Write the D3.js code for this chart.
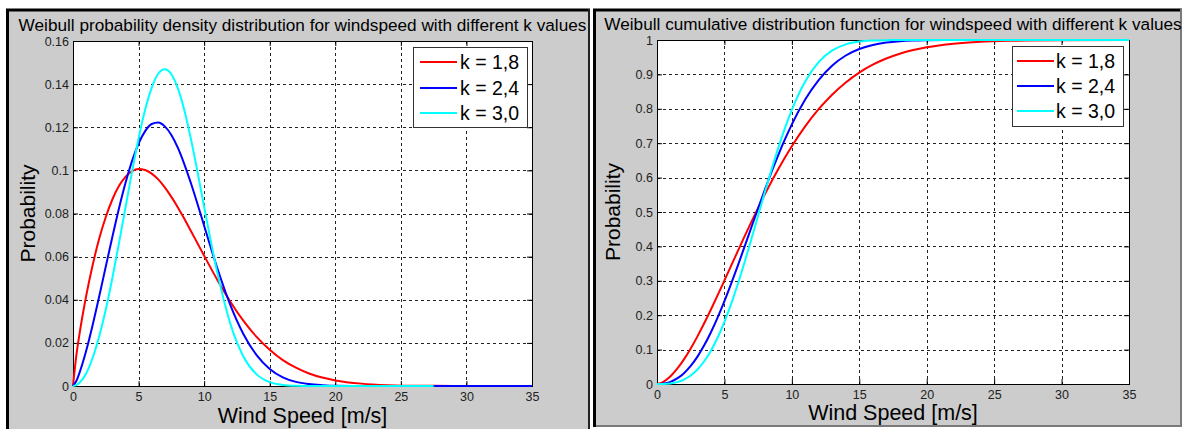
<!DOCTYPE html>
<html>
<head>
<meta charset="utf-8">
<script src="https://cdn.jsdelivr.net/npm/d3@7"></script>
<style>
  body { margin: 0; background: #fff; }
  svg { display: block; font-family: "Liberation Sans", Arial, sans-serif; }
</style>
</head>
<body>
<svg id="chart" width="1184" height="429"></svg>
<script>
// values
const windSpeed = [0, 0.25, 0.5, 1, 1.5, 2, 2.5, 3, 3.5, 4, 4.5, 5, 5.5, 6, 6.5, 7, 7.5, 8, 8.5, 9, 9.5, 10,
  11, 12, 13, 14, 15, 16, 17, 18, 19, 20, 22, 24, 26, 27.5, 30, 35];

const pdfK18 = [0, 0.0140, 0.0243, 0.0416, 0.0561, 0.0684, 0.0784, 0.0865, 0.0927, 0.0970, 0.0996, 0.1006, 0.1002, 0.0985, 0.0958, 0.0921, 0.0877, 0.0828, 0.0774, 0.0718, 0.0661, 0.0604,
  0.0493, 0.0391, 0.0302, 0.0228, 0.0168, 0.0120, 0.0085, 0.0058, 0.0039, 0.0026, 0.0011, 0.0004, 0.0001, 0.0001, 0, 0];
const pdfK24 = [0, 0.0023, 0.0062, 0.0162, 0.0283, 0.0416, 0.0554, 0.0691, 0.0822, 0.0941, 0.1043, 0.1124, 0.1182, 0.1215, 0.1222, 0.1204, 0.1164, 0.1104, 0.1027, 0.0939, 0.0843, 0.0743,
  0.0547, 0.0375, 0.0240, 0.0143, 0.0079, 0.0040, 0.0019, 0.0009, 0.0004, 0.0001, 0, 0, 0, 0, 0, 0];
const pdfK30 = [0, 0.0004, 0.0015, 0.0058, 0.0131, 0.0231, 0.0355, 0.0500, 0.0660, 0.0827, 0.0993, 0.1148, 0.1281, 0.1383, 0.1448, 0.1469, 0.1446, 0.1380, 0.1276, 0.1143, 0.0991, 0.0831,
  0.0527, 0.0289, 0.0136, 0.0054, 0.0018, 0.0005, 0.0001, 0, 0, 0, 0, 0, 0, 0, null, null];

const cdfK18 = [0, 0.0021, 0.0069, 0.0224, 0.0444, 0.0717, 0.1033, 0.1385, 0.1765, 0.2167, 0.2584, 0.3010, 0.3440, 0.3871, 0.4297, 0.4715, 0.5121, 0.5514, 0.5892, 0.6251, 0.6592, 0.6913,
  0.7495, 0.7995, 0.8417, 0.8767, 0.9053, 0.9281, 0.9461, 0.9601, 0.9708, 0.9789, 0.9894, 0.9949, 0.9976, 0.9987, 0.9996, 1];
const cdfK24 = [0, 0.0002, 0.0012, 0.0063, 0.0162, 0.0315, 0.0526, 0.0797, 0.1124, 0.1506, 0.1937, 0.2410, 0.2918, 0.3451, 0.3999, 0.4556, 0.5109, 0.5649, 0.6170, 0.6663, 0.7124, 0.7549,
  0.8278, 0.8844, 0.9261, 0.9550, 0.9739, 0.9856, 0.9925, 0.9963, 0.9983, 0.9992, 0.9999, 1, 1, 1, 1, 1];
const cdfK30 = [0, 0, 0.0002, 0.0016, 0.0054, 0.0127, 0.0246, 0.0421, 0.0661, 0.0970, 0.1352, 0.1807, 0.2331, 0.2914, 0.3546, 0.4213, 0.4896, 0.5580, 0.6244, 0.6873, 0.7451, 0.7970,
  0.8802, 0.9364, 0.9699, 0.9874, 0.9954, 0.9985, 0.9996, 0.9999, 1, 1, 1, 1, 1, 1, 1, 1];

const seriesNames = ["k = 1,8", "k = 2,4", "k = 3,0"];
const seriesColors = ["#ff0000", "#0000ff", "#00ffff"];

const xTicks = [0, 5, 10, 15, 20, 25, 30, 35];
const pdfTicks = [0, 0.02, 0.04, 0.06, 0.08, 0.1, 0.12, 0.14, 0.16];
const cdfTicks = [0, 0.1, 0.2, 0.3, 0.4, 0.5, 0.6, 0.7, 0.8, 0.9, 1];

const svg = d3.select("#chart");

const panels = [
  {
    frame: { x: 6, y: 9, w: 584, h: 440, edge: "#222" },
    plot: { left: 73, top: 41, right: 532, bottom: 386 },
    title: "Weibull probability density distribution for windspeed with different k values",
    titleY: 31,
    yMax: 0.16, yTicks: pdfTicks,
    series: [pdfK18, pdfK24, pdfK30],
    legend: { x: 413, y: 47, w: 114, h: 80, lineX: 7, textX: 47, rows: [15, 41, 66] },
    yLabelX: 35, xLabelY: 423
  },
  {
    frame: { x: 593, y: 9, w: 589, h: 418, edge: "#7a7a7a" },
    plot: { left: 657, top: 40, right: 1129, bottom: 384 },
    title: "Weibull cumulative distribution function for windspeed with different k values",
    titleY: 30,
    yMax: 1, yTicks: cdfTicks,
    series: [cdfK18, cdfK24, cdfK30],
    legend: { x: 1012, y: 46, w: 111, h: 80, lineX: 5, textX: 44, rows: [15, 40, 65] },
    yLabelX: 620, xLabelY: 420
  }
];

panels.forEach(drawPanel);

function drawPanel(p) {
  const f = p.frame;
  const g = svg.append("g");

  // grey figure frame
  g.append("rect")
    .attr("x", f.x).attr("y", f.y)
    .attr("width", f.w).attr("height", f.h)
    .attr("fill", "#cccccc");
  g.append("path")
    .attr("d", `M${f.x + 1.5},${f.y + f.h} V${f.y + 1} H${f.x + f.w}`)
    .attr("fill", "none").attr("stroke", "#000").attr("stroke-width", 3);
  g.append("path")
    .attr("d", `M${f.x + f.w - 1},${f.y} V${f.y + f.h - 1} H${f.x + 3}`)
    .attr("fill", "none").attr("stroke", f.edge).attr("stroke-width", 2);

  const w = p.plot.right - p.plot.left;
  const h = p.plot.bottom - p.plot.top;

  const x = d3.scaleLinear().domain([0, 35]).range([0, w]);
  const y = d3.scaleLinear().domain([0, p.yMax]).range([h, 0]);

  const plot = g.append("g")
    .attr("transform", `translate(${p.plot.left},${p.plot.top})`);

  plot.append("rect")
    .attr("width", w).attr("height", h)
    .attr("fill", "#fff");

  // dotted grid
  plot.append("g")
    .selectAll("line")
    .data(xTicks.slice(1, -1))
    .join("line")
    .attr("x1", d => Math.round(x(d)) + 0.5).attr("x2", d => Math.round(x(d)) + 0.5)
    .attr("y1", 0).attr("y2", h);
  plot.append("g")
    .selectAll("line")
    .data(p.yTicks.slice(1, -1))
    .join("line")
    .attr("y1", d => Math.round(y(d)) + 0.5).attr("y2", d => Math.round(y(d)) + 0.5)
    .attr("x1", 0).attr("x2", w);
  plot.selectAll("g line")
    .attr("stroke", "#222")
    .attr("stroke-width", 1)
    .attr("stroke-dasharray", "3,3");

  // axes with inward ticks on all four sides
  const xAxis = d3.axisBottom(x).tickValues(xTicks).tickSizeInner(-5).tickSizeOuter(0).tickPadding(6).tickFormat(d => String(d));
  const yAxis = d3.axisLeft(y).tickValues(p.yTicks).tickSizeInner(-5).tickSizeOuter(0).tickPadding(4).tickFormat(d => String(d));

  const axes = [
    plot.append("g").attr("transform", `translate(0,${h})`).call(xAxis),
    plot.append("g").call(yAxis),
    plot.append("g").call(d3.axisTop(x).tickValues(xTicks).tickSizeInner(-5).tickSizeOuter(0).tickFormat("")),
    plot.append("g").attr("transform", `translate(${w},0)`).call(d3.axisRight(y).tickValues(p.yTicks).tickSizeInner(-5).tickSizeOuter(0).tickFormat(""))
  ];
  axes.forEach(a => {
    a.select(".domain").remove();
    a.selectAll(".tick line").attr("stroke", "#000");
    a.selectAll("text")
      .attr("font-family", "\"Liberation Sans\", Arial, sans-serif")
      .attr("font-size", 12.5)
      .attr("fill", "#222");
  });

  plot.append("rect")
    .attr("x", 0.5).attr("y", 0.5)
    .attr("width", w).attr("height", h)
    .attr("fill", "none").attr("stroke", "#000").attr("stroke-width", 1);

  // curves, cyan drawn last
  const line = d3.line()
    .defined(d => d[1] != null)
    .x(d => x(d[0]))
    .y(d => y(d[1]))
    .curve(d3.curveMonotoneX);

  p.series.forEach((values, i) => {
    plot.append("path")
      .datum(windSpeed.map((v, j) => [v, values[j]]))
      .attr("d", line)
      .attr("fill", "none")
      .attr("stroke", seriesColors[i])
      .attr("stroke-width", 2);
  });

  // title and axis labels
  g.append("text")
    .attr("x", p.plot.left + w / 2).attr("y", p.titleY)
    .attr("text-anchor", "middle")
    .attr("font-size", 17.2)
    .text(p.title);

  g.append("text")
    .attr("transform", `translate(${p.yLabelX},${p.plot.top + h / 2}) rotate(-90)`)
    .attr("text-anchor", "middle")
    .attr("font-size", 21)
    .text("Probability");

  g.append("text")
    .attr("x", p.plot.left + w / 2).attr("y", p.xLabelY)
    .attr("text-anchor", "middle")
    .attr("font-size", 21.5)
    .text("Wind Speed [m/s]");

  // legend
  const L = p.legend;
  const legend = g.append("g").attr("transform", `translate(${L.x},${L.y})`);
  legend.append("rect")
    .attr("x", 0.5).attr("y", 0.5)
    .attr("width", L.w).attr("height", L.h)
    .attr("fill", "#fff").attr("stroke", "#333");
  seriesNames.forEach((name, i) => {
    legend.append("line")
      .attr("x1", L.lineX).attr("x2", L.lineX + 37)
      .attr("y1", L.rows[i]).attr("y2", L.rows[i])
      .attr("stroke", seriesColors[i]).attr("stroke-width", 2);
    legend.append("text")
      .attr("x", L.textX).attr("y", L.rows[i] + 7)
      .attr("font-size", 19.5)
      .text(name);
  });
}
</script>
</body>
</html>
